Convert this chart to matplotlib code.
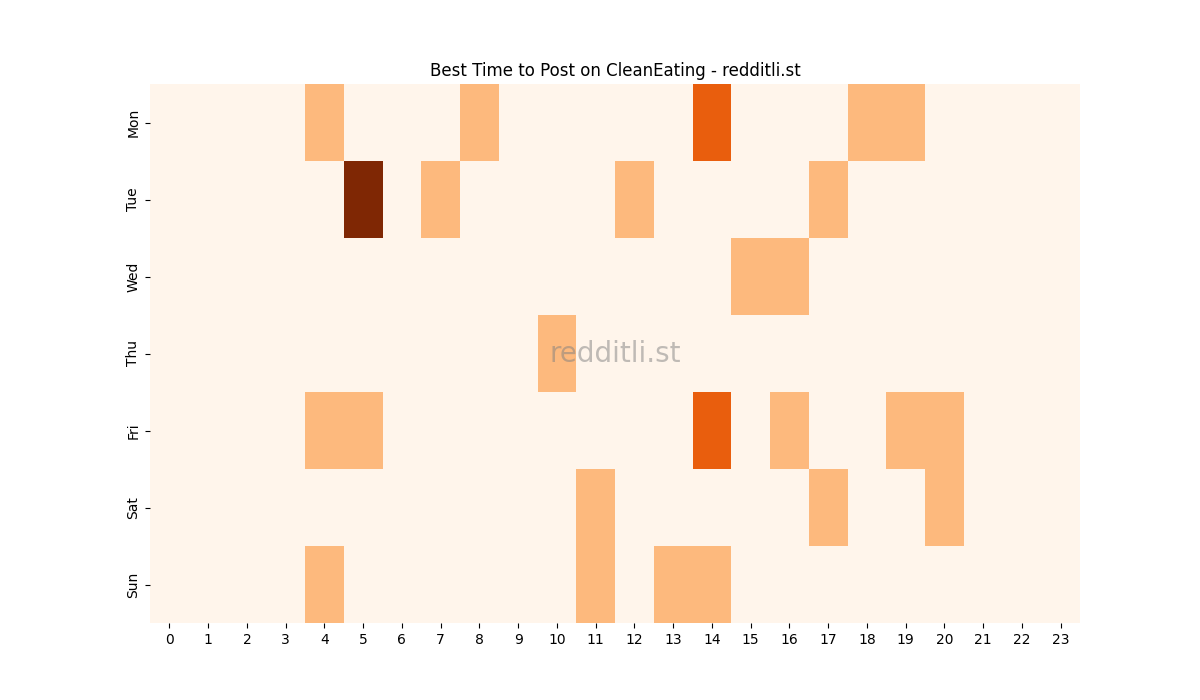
import matplotlib
matplotlib.use("Agg")
import matplotlib.pyplot as plt
import seaborn as sns
import numpy as np

days = ["Mon", "Tue", "Wed", "Thu", "Fri", "Sat", "Sun"]
hours = list(range(24))

mon = [0,0,0,0,1,0,0,0,1,0,0,0,0,0,2,0,0,0,1,1,0,0,0,0]
tue = [0,0,0,0,0,3,0,1,0,0,0,0,1,0,0,0,0,1,0,0,0,0,0,0]
wed = [0,0,0,0,0,0,0,0,0,0,0,0,0,0,0,1,1,0,0,0,0,0,0,0]
thu = [0,0,0,0,0,0,0,0,0,0,1,0,0,0,0,0,0,0,0,0,0,0,0,0]
fri = [0,0,0,0,1,1,0,0,0,0,0,0,0,0,2,0,1,0,0,1,1,0,0,0]
sat = [0,0,0,0,0,0,0,0,0,0,0,1,0,0,0,0,0,1,0,0,1,0,0,0]
sun = [0,0,0,0,1,0,0,0,0,0,0,1,0,1,1,0,0,0,0,0,0,0,0,0]

data = np.array([mon, tue, wed, thu, fri, sat, sun])

fig, ax = plt.subplots(figsize=(12, 7), dpi=100)
sns.heatmap(data, cmap="Oranges", cbar=False, ax=ax,
            xticklabels=hours, yticklabels=days)
ax.set_title("Best Time to Post on CleanEating - redditli.st")
ax.text(0.5, 0.5, "redditli.st", transform=ax.transAxes, ha="center", va="center",
        fontsize=20, color="grey", alpha=0.5)
plt.setp(ax.get_xticklabels(), rotation=0)
fig.savefig("out.png")
